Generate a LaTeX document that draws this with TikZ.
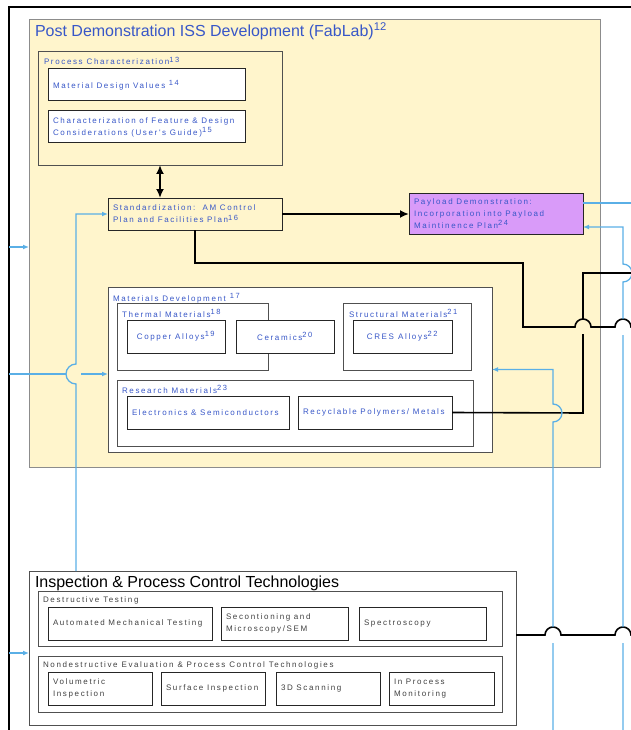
\documentclass[tikz,border=0pt]{standalone}
\usepackage{fontspec}
\setmainfont{Liberation Sans}
\newfontfamily\trackfont[LetterSpace=20.5]{Liberation Sans}
\newcommand\refnum[1]{\textsuperscript{\fontsize{7.5}{7.5}\selectfont#1}}
\usepackage{tikz}
\usetikzlibrary{arrows.meta,positioning,calc}
\definecolor{FabYellow}{HTML}{FFF5CC}
\definecolor{PayViolet}{HTML}{D99BF9}
\definecolor{LinkBlue}{HTML}{5AAFE6}
\definecolor{LabelBlue}{HTML}{3857C8}
\definecolor{EdgeGray}{HTML}{505050}
\definecolor{LabelGray}{HTML}{404040}

\begin{document}
\begin{tikzpicture}[
  x=1pt, y=-1pt,
  every node/.style={inner sep=0pt, outer sep=0pt},
  group/.style 2 args={draw=EdgeGray, line width=0.8pt, fill=white, anchor=north west,
    minimum width=#1, minimum height=#2},
  cell/.style 2 args={draw=black!85, line width=1pt, fill=white, anchor=north west,
    minimum width=#1, minimum height=#2, text width=#1-10pt, inner xsep=5pt, align=left,
    text=LabelBlue, font=\trackfont\fontsize{8}{12}\selectfont,
    execute at begin node={\spaceskip=3.6pt plus 1pt\relax}},
  lowcell/.style 2 args={cell={#1}{#2}, text=LabelGray},
  heading/.style={anchor=base west, text=LabelBlue, font=\trackfont\fontsize{8}{12}\selectfont},
  lowhead/.style={heading, text=LabelGray},
  title/.style={anchor=base west, text=LabelBlue, font=\fontsize{16}{19}\selectfont},
  link/.style={draw=LinkBlue, line width=1.3pt},
  feed/.style={link, -{Latex[length=6pt,width=5pt]}},
  wire/.style={line width=1.6pt},
  arrow/.style={-{Latex[length=9pt,width=8pt]}, line width=2.4pt},
  twoway/.style={{Latex[length=9pt,width=8pt]}-{Latex[length=9pt,width=8pt]}, line width=2.4pt}
]
  \useasboundingbox (0,0) rectangle (630,730);
  \draw[line width=2pt] (9,735) -- (9,7) -- (635,7);

  \node[group={571}{448}, fill=FabYellow, draw=black!45] (fab) at (29,19) {};
  \node[title] (fabtitle) at (35,37) {Post Demonstration ISS Development (FabLab)\textsuperscript{12}};

  \node[group={244}{114}, fill=FabYellow] (pc) at (38,51) {};
  \node[heading] (pctitle) at (44,65) {Process Characterization\refnum{13}};
  \node[cell={197}{32}] (mdv) at (48,69) {Material Design Values \refnum{14}};
  \node[cell={197}{32}, below=10pt of mdv] (cfd) {Characterization of Feature \& Design\\Considerations (User's Guide)\refnum{15}};
  \node[cell={174}{32}, fill=FabYellow] (std) at (108,198) {Standardization:~~AM Control\\Plan and Facilities Plan\refnum{16}};
  \node[cell={174}{41}, fill=PayViolet] (pay) at (409,193) {Payload Demonstration:\\Incorporation into Payload\\Maintinence Plan\refnum{24}};

  \node[group={384}{165}] (md) at (108,287) {};
  \node[heading] (mdtitle) at (113,301) {Materials Development \refnum{17}};
  \node[group={151}{67}] (thm) at (117,303) {};
  \node[heading] (thmtitle) at (122,317) {Thermal Materials\refnum{18}};
  \node[cell={98}{33}, align=center] (cu) at (127,320) {Copper Alloys\refnum{19}};
  \node[cell={98}{33}, align=center, right=11pt of cu] (cer) {Ceramics\refnum{20}};
  \node[group={128}{67}] (stm) at (343,303) {};
  \node[heading] (stmtitle) at (349,317) {Structural Materials\refnum{21}};
  \node[cell={99}{33}, align=center] (cres) at (353,320) {CRES Alloys\refnum{22}};
  \node[group={356}{66}] (rm) at (117,380) {};
  \node[heading] (rmtitle) at (122,393) {Research Materials\refnum{23}};
  \node[cell={162}{33}] (els) at (127,396) {Electronics \& Semiconductors};
  \node[cell={154}{33}, right=9pt of els] (rpm) {Recyclable Polymers/ Metals};

  \node[group={487}{154}] (ipc) at (29,571) {};
  \node[title, text=black] (ipctitle) at (35,587) {Inspection \& Process Control Technologies};
  \node[group={464}{55}] (dt) at (38,591) {};
  \node[lowhead] (dttitle) at (43,602) {Destructive Testing};
  \node[lowcell={164}{33}] (amt) at (48,607) {Automated Mechanical Testing};
  \node[lowcell={127}{33}, right=9pt of amt] (sms) {Secontioning and\\Microscopy/SEM};
  \node[lowcell={127}{33}, right=11pt of sms] (spe) {Spectroscopy};
  \node[group={464}{56}] (nde) at (38,656) {};
  \node[lowhead] (ndetitle) at (43,667) {Nondestructive Evaluation \& Process Control Technologies};
  \node[lowcell={104}{33}] (vol) at (48,672) {Volumetric\\Inspection};
  \node[lowcell={104}{33}, right=9pt of vol] (sur) {Surface Inspection};
  \node[lowcell={104}{33}, right=11pt of sur] (scan) {3D Scanning};
  \node[lowcell={105}{33}, right=9pt of scan] (ipm) {In Process\\Monitoring};

  \coordinate (inFab) at (9,247);
  \coordinate (inMd) at (9,374);
  \coordinate (inIpc) at (9,653);
  \coordinate (upStd) at (76,215);
  \coordinate (outPay) at (640,203);
  \coordinate (backPay) at (623,227);
  \coordinate (outStd) at (640,327);
  \coordinate (outRpm) at (640,273);
  \coordinate (outIpc) at (640,635);
  \coordinate (botA) at (553,735);
  \coordinate (botB) at (623,735);

  \draw[twoway] (pc.south) -- (std.north -| pc.south);
  \draw[arrow] (std.east) -- (std.east -| pay.west);
  \draw[wire] (std.south) |- (523,263) -- (523,327) -- (575,327)
    arc[start angle=180, end angle=360, radius=8] -- (615,327)
    arc[start angle=180, end angle=360, radius=8] -- (outStd);
  \draw[wire] (rpm.east) -- (583,413) -- (583,334) (583,319) |- (outRpm);
  \draw[wire] (ipc.east |- outIpc) -- (545,635)
    arc[start angle=180, end angle=360, radius=8] -- (615,635)
    arc[start angle=180, end angle=360, radius=8] -- (outIpc);

  \draw[link] (pay.east |- outPay) -- (outPay);
  \draw[feed] (botB) -- (623,643) (623,627) -- (623,335) (623,319) -- (623,282)
    arc[start angle=90, end angle=-90, radius=9] |- (pay.east |- backPay);
  \draw[feed] (botA) -- (553,643) (553,627) -- (553,422)
    arc[start angle=90, end angle=-90, radius=9] |- (md.east);
  \draw[feed] (inFab) -- (inFab -| fab.west);
  \draw[feed] (inMd) -- (66,374) (81,374) -- (inMd -| md.west);
  \draw[feed] (ipc.north -| upStd) -- (76,384)
    arc[start angle=90, end angle=270, radius=10] |- (std.west);
  \draw[feed] (inIpc) -- (inIpc -| ipc.west);
\end{tikzpicture}
\end{document}
